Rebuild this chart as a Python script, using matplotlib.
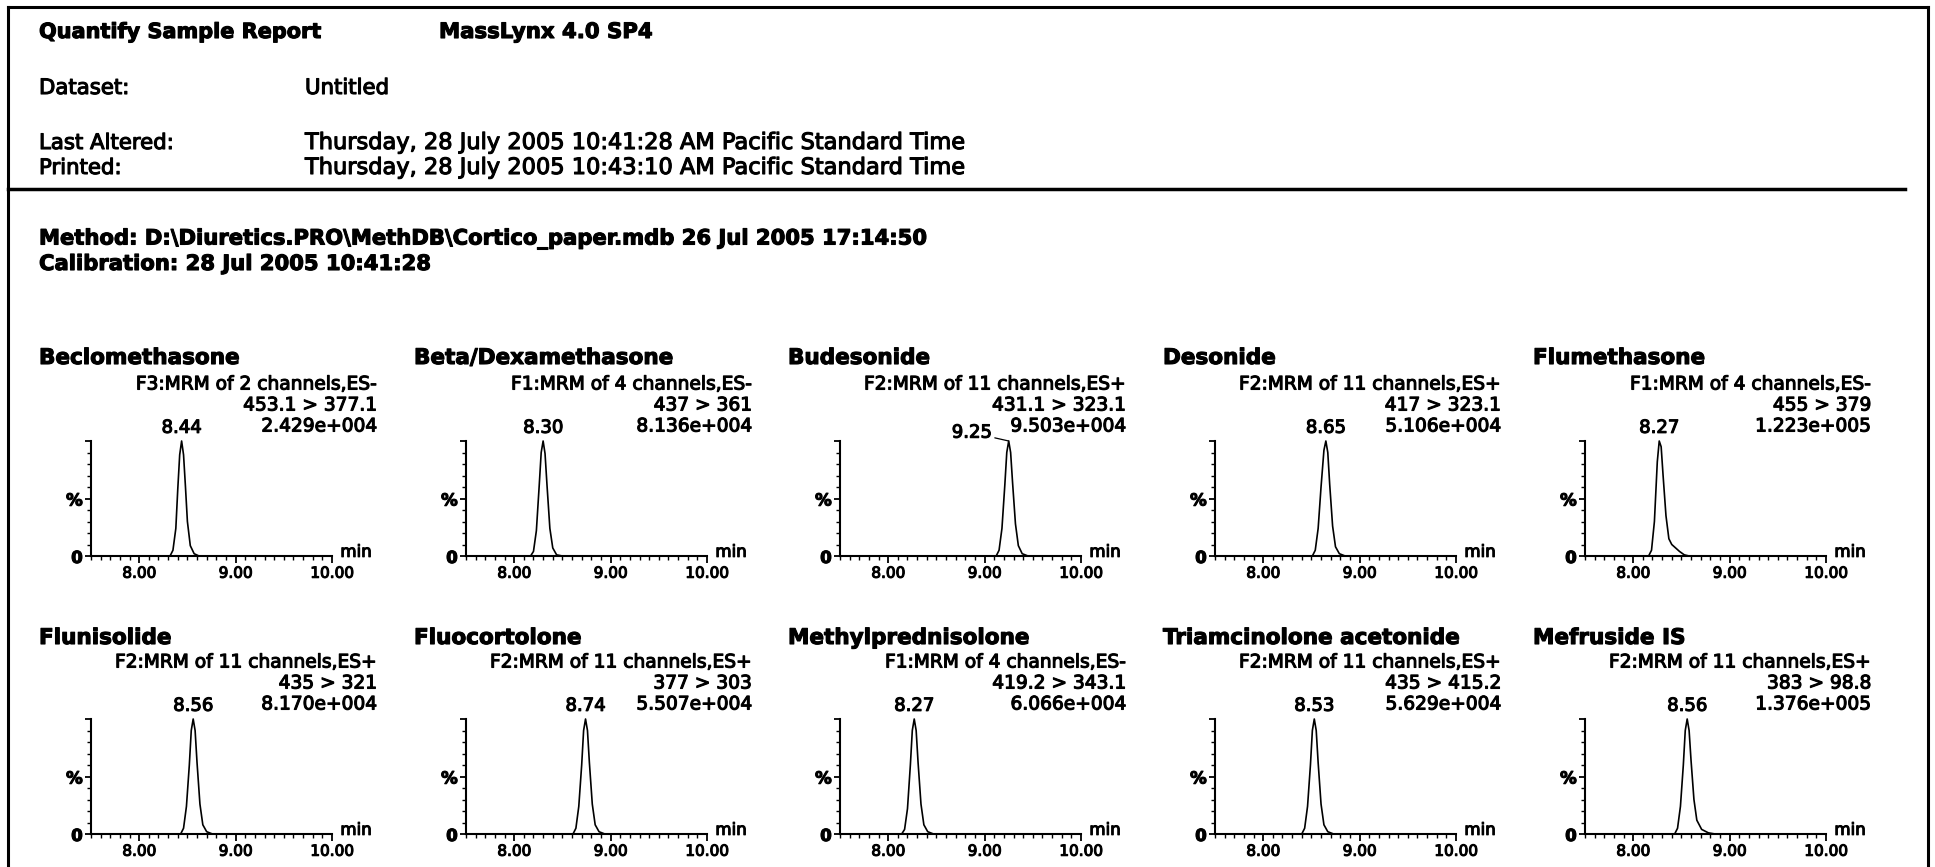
#!/usr/bin/env python3
import matplotlib
matplotlib.use("Agg")
import matplotlib.pyplot as plt
import matplotlib.patheffects as patheffects
from matplotlib.lines import Line2D
from matplotlib.ticker import MultipleLocator

# ---- report header ----
report_title = "Quantify Sample Report"
software = "MassLynx 4.0 SP4"
dataset = "Untitled"
last_altered = "Thursday, 28 July 2005 10:41:28 AM Pacific Standard Time"
printed = "Thursday, 28 July 2005 10:43:10 AM Pacific Standard Time"
method = "Method: D:\\Diuretics.PRO\\MethDB\\Cortico_paper.mdb 26 Jul 2005 17:14:50"
calibration = "Calibration: 28 Jul 2005 10:41:28"

# ---- compounds (row by row) ----
compounds = ["Beclomethasone", "Beta/Dexamethasone", "Budesonide", "Desonide", "Flumethasone",
             "Flunisolide", "Fluocortolone", "Methylprednisolone", "Triamcinolone acetonide",
             "Mefruside IS"]
channels = ["F3:MRM of 2 channels,ES-", "F1:MRM of 4 channels,ES-", "F2:MRM of 11 channels,ES+",
            "F2:MRM of 11 channels,ES+", "F1:MRM of 4 channels,ES-",
            "F2:MRM of 11 channels,ES+", "F2:MRM of 11 channels,ES+", "F1:MRM of 4 channels,ES-",
            "F2:MRM of 11 channels,ES+", "F2:MRM of 11 channels,ES+"]
transitions = ["453.1 > 377.1", "437 > 361", "431.1 > 323.1", "417 > 323.1", "455 > 379",
               "435 > 321", "377 > 303", "419.2 > 343.1", "435 > 415.2", "383 > 98.8"]
intensities = ["2.429e+004", "8.136e+004", "9.503e+004", "5.106e+004", "1.223e+005",
               "8.170e+004", "5.507e+004", "6.066e+004", "5.629e+004", "1.376e+005"]
retention = [8.44, 8.30, 9.25, 8.65, 8.27,
             8.56, 8.74, 8.27, 8.53, 8.56]

# chromatogram traces (time in min, relative intensity in %)
trace_t = [
    [7.50, 8.32, 8.35, 8.38, 8.40, 8.42, 8.44, 8.46, 8.48, 8.50, 8.53, 8.57, 8.62, 10.00],
    [7.50, 8.17, 8.20, 8.23, 8.26, 8.28, 8.30, 8.32, 8.34, 8.37, 8.40, 8.44, 8.50, 10.00],
    [7.50, 9.12, 9.15, 9.18, 9.21, 9.23, 9.25, 9.27, 9.29, 9.32, 9.35, 9.39, 9.45, 10.00],
    [7.50, 8.51, 8.54, 8.57, 8.60, 8.63, 8.65, 8.67, 8.69, 8.72, 8.75, 8.79, 8.85, 10.00],
    [7.50, 8.16, 8.19, 8.22, 8.25, 8.27, 8.29, 8.31, 8.34, 8.37, 8.40, 8.44, 8.48, 8.53, 8.58, 10.00],
    [7.50, 8.43, 8.46, 8.49, 8.52, 8.54, 8.56, 8.58, 8.60, 8.63, 8.66, 8.70, 8.76, 10.00],
    [7.50, 8.61, 8.64, 8.67, 8.70, 8.72, 8.74, 8.76, 8.78, 8.81, 8.84, 8.88, 8.94, 10.00],
    [7.50, 8.14, 8.17, 8.20, 8.23, 8.25, 8.27, 8.29, 8.31, 8.34, 8.37, 8.41, 8.47, 10.00],
    [7.50, 8.40, 8.43, 8.46, 8.49, 8.51, 8.53, 8.55, 8.57, 8.60, 8.63, 8.67, 8.73, 10.00],
    [7.50, 8.43, 8.46, 8.49, 8.52, 8.54, 8.56, 8.58, 8.60, 8.63, 8.66, 8.71, 8.78, 8.85, 10.00],
]
trace_y = [
    [0, 0, 5, 24, 58, 88, 100, 88, 60, 30, 9, 2, 0, 0],
    [0, 0, 4, 22, 62, 90, 100, 89, 62, 24, 7, 1, 0, 0],
    [0, 0, 5, 24, 62, 90, 100, 90, 64, 28, 9, 2, 0, 0],
    [0, 0, 5, 24, 60, 92, 100, 90, 62, 26, 8, 2, 0, 0],
    [0, 0, 5, 30, 82, 100, 95, 70, 35, 15, 10, 7, 4, 1, 0, 0],
    [0, 0, 5, 24, 60, 90, 100, 90, 62, 26, 8, 2, 0, 0],
    [0, 0, 5, 24, 60, 90, 100, 90, 62, 26, 8, 2, 0, 0],
    [0, 0, 4, 22, 60, 90, 100, 90, 62, 26, 8, 2, 0, 0],
    [0, 0, 5, 24, 60, 90, 100, 90, 62, 26, 8, 2, 0, 0],
    [0, 0, 5, 24, 60, 90, 100, 90, 64, 30, 12, 4, 1, 0, 0],
]

x_ticks = [8, 9, 10]
x_tick_labels = ["8.00", "9.00", "10.00"]

# layout (pixels of the 1935x867 page)
W, H = 1935, 867
col_left = [91, 466, 840, 1215, 1585]
row_top = [441, 719]
title_y = [358, 638]
ax_w, ax_h = 241, 115
ink = "black"

plt.rcParams["font.family"] = ["DejaVu Sans"]
# thicken glyphs a little, like the scanned print
heavy = [patheffects.withStroke(linewidth=0.8, foreground=ink)]


def fx(px):
    return px / W


def fy(py):
    return 1 - py / H


fig = plt.figure(figsize=(W / 100, H / 100), dpi=100)
fig.patch.set_facecolor("white")

# page frame and rule
for xs, ys, lw in [([8, 8], [7, 867], 2.2), ([8, 1928], [7, 7], 2.2),
                   ([1928, 1928], [7, 867], 2.2), ([8, 1905], [189, 189], 2.5)]:
    fig.add_artist(Line2D([fx(x) for x in xs], [fy(y) for y in ys], color=ink, lw=lw))

hdr = dict(va="center", path_effects=heavy)
fig.text(fx(39), fy(32), report_title, fontsize=15, fontweight="bold", **hdr)
fig.text(fx(439), fy(32), software, fontsize=15.3, fontweight="bold", **hdr)
fig.text(fx(39), fy(88), "Dataset:", fontsize=15.3, **hdr)
fig.text(fx(305), fy(88), dataset, fontsize=15.3, **hdr)
fig.text(fx(39), fy(143), "Last Altered:", fontsize=15.3, **hdr)
fig.text(fx(305), fy(143), last_altered, fontsize=16.2, **hdr)
fig.text(fx(39), fy(168), "Printed:", fontsize=15.3, **hdr)
fig.text(fx(305), fy(168), printed, fontsize=16.2, **hdr)
fig.text(fx(39), fy(239), method, fontsize=15.2, fontweight="bold", **hdr)
fig.text(fx(39), fy(264), calibration, fontsize=15.2, fontweight="bold", **hdr)

for i, name in enumerate(compounds):
    r, c = divmod(i, 5)
    left = col_left[c]
    top = row_top[r]
    right = left + ax_w
    ax = fig.add_axes([fx(left), fy(top + ax_h), fx(ax_w), ax_h / H])
    ax.plot(trace_t[i], trace_y[i], color=ink, lw=1.2, clip_on=False)
    ax.set_xlim(7.5, 10.0)
    ax.set_ylim(0, 100)
    for s in ("top", "right"):
        ax.spines[s].set_visible(False)
    for s in ("left", "bottom"):
        ax.spines[s].set_linewidth(1.5)
    ax.set_xticks(x_ticks)
    ax.set_xticklabels(x_tick_labels, fontsize=11)
    ax.xaxis.set_minor_locator(MultipleLocator(0.1))
    ax.set_yticks([0, 50, 100])
    ax.set_yticklabels(["0", "%", ""], fontsize=12, fontweight="bold")
    ax.yaxis.set_minor_locator(MultipleLocator(10))
    ax.tick_params(axis="x", which="major", direction="out", length=5, width=1.3, pad=2)
    ax.tick_params(axis="x", which="minor", direction="out", length=3, width=1.0)
    ax.tick_params(axis="y", which="major", direction="out", length=4, width=1.3, pad=2)
    ax.tick_params(axis="y", which="minor", direction="out", length=3, width=1.0)
    for lbl in ax.get_xticklabels() + ax.get_yticklabels():
        lbl.set_path_effects(heavy)
    ax.annotate("min", xy=(1, 0), xycoords="axes fraction", xytext=(6, 3),
                textcoords="offset points", ha="left", va="center", fontsize=12,
                path_effects=heavy)

    # peak label
    if name == "Budesonide":
        ax.annotate(f"{retention[i]:.2f}", xy=(retention[i], 100), xytext=(-12, 6),
                    textcoords="offset points", ha="right", va="center", fontsize=13,
                    path_effects=heavy,
                    arrowprops=dict(arrowstyle="-", lw=0.9, color=ink, shrinkA=0, shrinkB=0),
                    annotation_clip=False)
    else:
        ax.annotate(f"{retention[i]:.2f}", xy=(retention[i], 100), xytext=(0, 3),
                    textcoords="offset points", ha="center", va="bottom", fontsize=13,
                    path_effects=heavy, annotation_clip=False)

    fig.text(fx(left - 52), fy(title_y[r]), name, fontsize=15.5, fontweight="bold",
             va="center", path_effects=heavy)
    sub = dict(fontsize=13.4, ha="right", va="center", path_effects=heavy)
    fig.text(fx(right + 45), fy(top - 57), channels[i], **sub)
    fig.text(fx(right + 45), fy(top - 36), transitions[i], **sub)
    fig.text(fx(right + 45), fy(top - 15), intensities[i], **sub)

fig.savefig("out.png", dpi=100, facecolor="white")
